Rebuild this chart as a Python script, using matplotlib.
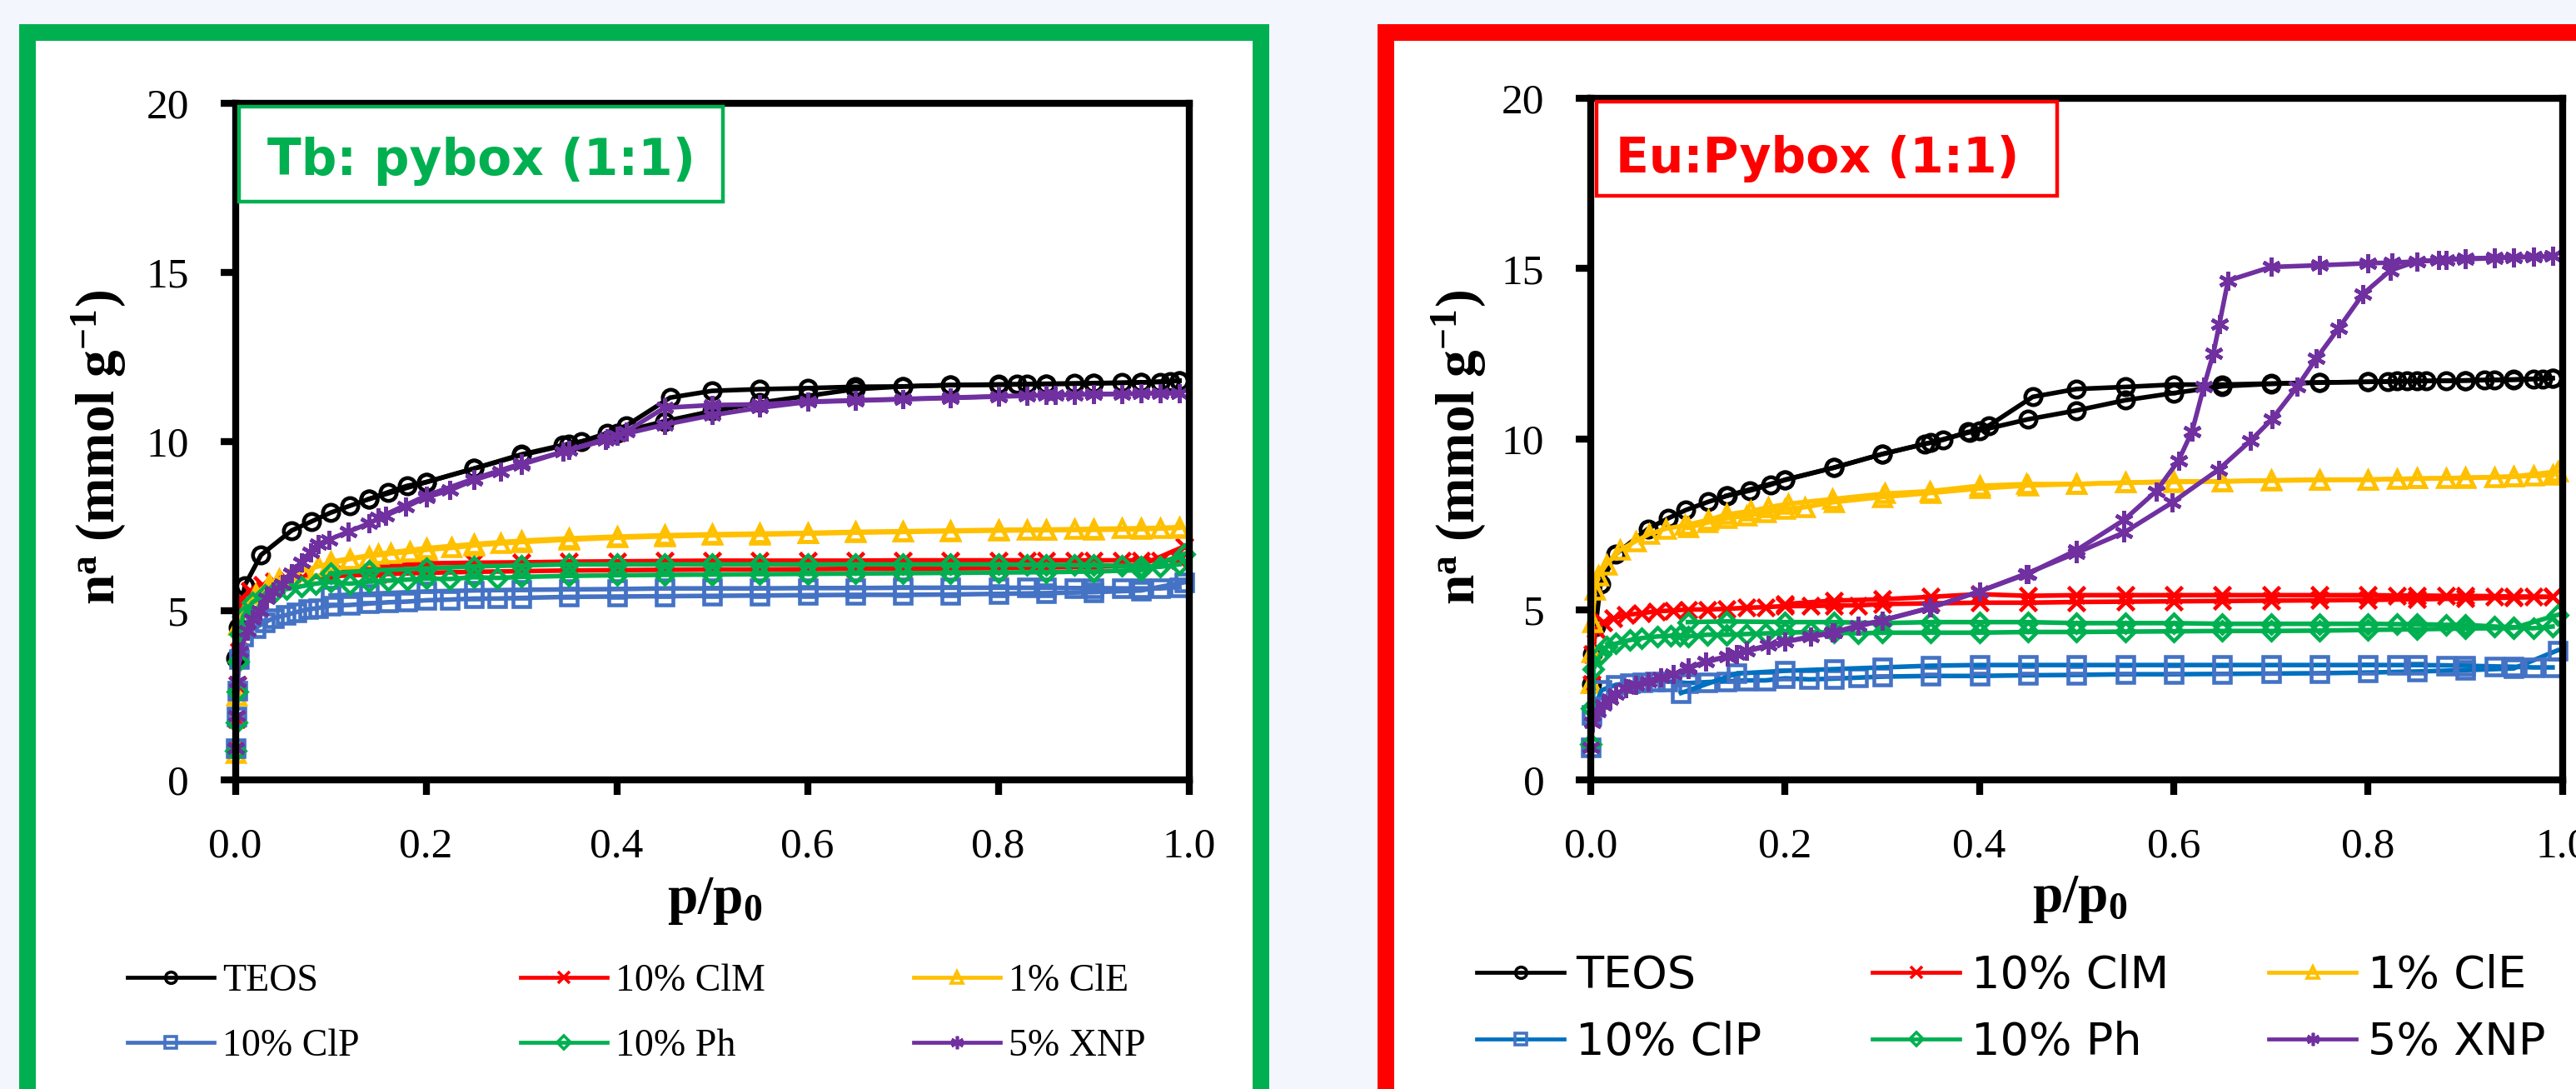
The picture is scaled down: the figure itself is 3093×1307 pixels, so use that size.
import numpy as np
import matplotlib.pyplot as plt
from matplotlib.patches import Rectangle
from matplotlib.lines import Line2D
from matplotlib.ticker import FormatStrFormatter

plt.rcParams['font.family'] = ['Liberation Serif', 'DejaVu Serif']
plt.rcParams['mathtext.fontset'] = 'custom'
plt.rcParams['mathtext.rm'] = 'Liberation Serif'
plt.rcParams['mathtext.it'] = 'Liberation Serif:italic'
plt.rcParams['mathtext.bf'] = 'Liberation Serif:bold'

# ---------------- Tb:pybox (left panel) ----------------
TB_TEOS_ADS_P = [0.0005, 0.003, 0.01, 0.027, 0.059, 0.08, 0.10, 0.12, 0.14, 0.16, 0.18, 0.20, 0.25, 0.30, 0.35, 0.40, 0.45, 0.50, 0.55, 0.60, 0.65, 0.70, 0.75, 0.80, 0.85, 0.90, 0.95, 0.99]
TB_TEOS_ADS_N = [3.6, 4.5, 5.75, 6.65, 7.37, 7.64, 7.90, 8.10, 8.30, 8.50, 8.69, 8.80, 9.20, 9.60, 9.92, 10.25, 10.60, 10.90, 11.15, 11.35, 11.55, 11.63, 11.67, 11.69, 11.70, 11.72, 11.75, 11.80]
TB_TEOS_DES_P = [0.99, 0.98, 0.97, 0.95, 0.93, 0.90, 0.88, 0.85, 0.83, 0.82, 0.80, 0.75, 0.70, 0.65, 0.60, 0.55, 0.50, 0.456, 0.41, 0.39, 0.363, 0.344, 0.30, 0.25, 0.20, 0.14]
TB_TEOS_DES_N = [11.80, 11.78, 11.76, 11.75, 11.74, 11.73, 11.72, 11.71, 11.70, 11.69, 11.68, 11.67, 11.63, 11.62, 11.58, 11.55, 11.50, 11.30, 10.47, 10.25, 10.00, 9.90, 9.62, 9.20, 8.80, 8.30]

TB_CLM_ADS_P = [0.0003, 0.001, 0.002, 0.004, 0.0066, 0.015, 0.028, 0.041, 0.054, 0.07, 0.10, 0.15, 0.20, 0.25, 0.30, 0.35, 0.40, 0.45, 0.50, 0.55, 0.60, 0.65, 0.70, 0.75, 0.80, 0.85, 0.90, 0.95, 0.995]
TB_CLM_ADS_N = [0.9, 1.8, 2.8, 3.8, 5.34, 5.59, 5.76, 5.85, 5.93, 5.98, 6.02, 6.08, 6.12, 6.15, 6.17, 6.19, 6.20, 6.21, 6.22, 6.22, 6.23, 6.24, 6.24, 6.25, 6.26, 6.28, 6.30, 6.35, 6.90]
TB_CLM_DES_P = [0.99, 0.97, 0.95, 0.93, 0.90, 0.88, 0.85, 0.83, 0.80, 0.75, 0.70, 0.65, 0.60, 0.55, 0.50, 0.45, 0.40, 0.35, 0.30, 0.25, 0.20, 0.15, 0.10]
TB_CLM_DES_N = [6.50, 6.49, 6.49, 6.49, 6.49, 6.49, 6.49, 6.49, 6.49, 6.49, 6.49, 6.48, 6.48, 6.48, 6.48, 6.47, 6.46, 6.45, 6.43, 6.42, 6.40, 6.30, 6.10]

TB_CLE_ADS_P = [0.0003, 0.001, 0.003, 0.0115, 0.021, 0.035, 0.046, 0.058, 0.071, 0.087, 0.10, 0.12, 0.14, 0.163, 0.183, 0.20, 0.227, 0.25, 0.278, 0.30, 0.35, 0.40, 0.45, 0.50, 0.55, 0.60, 0.65, 0.70, 0.75, 0.80, 0.85, 0.90, 0.95, 0.99]
TB_CLE_ADS_N = [0.8, 2.5, 4.58, 5.08, 5.50, 5.80, 5.93, 6.02, 6.19, 6.31, 6.40, 6.53, 6.61, 6.69, 6.74, 6.80, 6.86, 6.93, 6.99, 7.03, 7.10, 7.16, 7.20, 7.23, 7.25, 7.28, 7.31, 7.33, 7.35, 7.37, 7.38, 7.39, 7.41, 7.45]
TB_CLE_DES_P = [0.99, 0.97, 0.95, 0.93, 0.90, 0.88, 0.85, 0.83, 0.80, 0.75, 0.70, 0.65, 0.60, 0.55, 0.50, 0.45, 0.40, 0.35, 0.30, 0.25, 0.20, 0.15, 0.10]
TB_CLE_DES_N = [7.47, 7.45, 7.44, 7.43, 7.42, 7.41, 7.40, 7.40, 7.39, 7.37, 7.35, 7.33, 7.30, 7.28, 7.26, 7.23, 7.19, 7.14, 7.07, 6.97, 6.85, 6.68, 6.45]

TB_CLP_ADS_P = [0.0003, 0.001, 0.002, 0.004, 0.008, 0.021, 0.031, 0.041, 0.053, 0.064, 0.076, 0.087, 0.10, 0.12, 0.14, 0.16, 0.18, 0.20, 0.225, 0.25, 0.275, 0.30, 0.35, 0.40, 0.45, 0.50, 0.55, 0.60, 0.65, 0.70, 0.75, 0.80, 0.85, 0.90, 0.95, 0.995]
TB_CLP_ADS_N = [0.93, 1.86, 2.63, 3.56, 4.24, 4.49, 4.66, 4.79, 4.87, 4.96, 5.04, 5.08, 5.15, 5.17, 5.21, 5.25, 5.27, 5.31, 5.33, 5.36, 5.36, 5.38, 5.41, 5.42, 5.43, 5.44, 5.45, 5.46, 5.47, 5.47, 5.48, 5.50, 5.52, 5.55, 5.60, 5.84]
TB_CLP_DES_P = [0.99, 0.97, 0.95, 0.93, 0.90, 0.88, 0.85, 0.83, 0.80, 0.75, 0.70, 0.65, 0.60, 0.55, 0.50, 0.45, 0.40, 0.35, 0.30, 0.25, 0.20, 0.14, 0.10]
TB_CLP_DES_N = [5.70, 5.66, 5.66, 5.66, 5.67, 5.67, 5.68, 5.68, 5.68, 5.68, 5.68, 5.67, 5.67, 5.66, 5.66, 5.66, 5.64, 5.63, 5.62, 5.60, 5.57, 5.50, 5.45]

TB_PH_ADS_P = [0.0003, 0.001, 0.002, 0.003, 0.005, 0.008, 0.018, 0.031, 0.041, 0.054, 0.069, 0.084, 0.10, 0.12, 0.14, 0.16, 0.18, 0.20, 0.225, 0.25, 0.275, 0.30, 0.35, 0.40, 0.45, 0.50, 0.55, 0.60, 0.65, 0.70, 0.75, 0.80, 0.85, 0.90, 0.95, 0.995]
TB_PH_ADS_N = [0.85, 1.7, 2.6, 3.5, 4.3, 4.83, 5.25, 5.47, 5.55, 5.64, 5.72, 5.80, 5.85, 5.80, 5.86, 5.89, 5.92, 5.95, 5.94, 5.99, 5.97, 6.00, 6.03, 6.05, 6.06, 6.07, 6.08, 6.09, 6.10, 6.11, 6.12, 6.13, 6.14, 6.16, 6.20, 6.68]
TB_PH_DES_P = [0.99, 0.97, 0.95, 0.93, 0.90, 0.88, 0.85, 0.83, 0.80, 0.75, 0.70, 0.65, 0.60, 0.55, 0.50, 0.45, 0.40, 0.35, 0.30, 0.25, 0.20, 0.14, 0.10]
TB_PH_DES_N = [6.37, 6.30, 6.30, 6.33, 6.35, 6.35, 6.36, 6.36, 6.37, 6.37, 6.37, 6.37, 6.37, 6.37, 6.37, 6.37, 6.37, 6.37, 6.34, 6.31, 6.25, 6.19, 6.10]

TB_XNP_ADS_P = [0.0003, 0.001, 0.002, 0.005, 0.013, 0.018, 0.026, 0.033, 0.04, 0.049, 0.059, 0.069, 0.079, 0.087, 0.098, 0.118, 0.14, 0.158, 0.179, 0.20, 0.225, 0.25, 0.278, 0.30, 0.344, 0.388, 0.40, 0.45, 0.50, 0.55, 0.60, 0.65, 0.70, 0.75, 0.80, 0.85, 0.90, 0.95, 0.99]
TB_XNP_ADS_N = [0.93, 1.90, 2.90, 3.80, 4.42, 4.75, 5.00, 5.37, 5.57, 5.80, 6.10, 6.43, 6.72, 6.96, 7.10, 7.33, 7.58, 7.82, 8.07, 8.35, 8.56, 8.86, 9.11, 9.32, 9.70, 10.04, 10.17, 10.50, 10.78, 11.00, 11.17, 11.21, 11.25, 11.29, 11.33, 11.37, 11.40, 11.42, 11.43]
TB_XNP_DES_P = [0.99, 0.97, 0.95, 0.93, 0.90, 0.88, 0.86, 0.83, 0.80, 0.75, 0.70, 0.65, 0.60, 0.55, 0.50, 0.45, 0.41, 0.39, 0.35, 0.30, 0.25, 0.20, 0.15]
TB_XNP_DES_N = [11.43, 11.43, 11.42, 11.41, 11.40, 11.39, 11.38, 11.36, 11.34, 11.30, 11.26, 11.22, 11.18, 11.10, 11.08, 11.00, 10.30, 10.10, 9.75, 9.35, 8.90, 8.40, 7.75]

# ---------------- Eu:Pybox (right panel) ----------------
EU_TEOS_ADS_P = [0.0005, 0.002, 0.005, 0.01, 0.026, 0.059, 0.08, 0.098, 0.121, 0.141, 0.164, 0.185, 0.20, 0.25, 0.30, 0.344, 0.363, 0.388, 0.40, 0.45, 0.50, 0.55, 0.60, 0.65, 0.70, 0.75, 0.80, 0.85, 0.90, 0.95, 0.99]
EU_TEOS_ADS_N = [2.80, 3.70, 4.50, 5.74, 6.63, 7.37, 7.68, 7.92, 8.16, 8.34, 8.49, 8.66, 8.81, 9.16, 9.56, 9.86, 9.98, 10.21, 10.25, 10.58, 10.84, 11.14, 11.35, 11.55, 11.62, 11.66, 11.68, 11.70, 11.72, 11.75, 11.79]
EU_TEOS_DES_P = [0.99, 0.98, 0.97, 0.95, 0.93, 0.92, 0.90, 0.88, 0.86, 0.84, 0.83, 0.82, 0.80, 0.75, 0.70, 0.65, 0.60, 0.55, 0.50, 0.455, 0.41, 0.39, 0.35, 0.30, 0.25, 0.20, 0.14]
EU_TEOS_DES_N = [11.79, 11.77, 11.76, 11.74, 11.73, 11.73, 11.72, 11.71, 11.71, 11.70, 11.70, 11.69, 11.68, 11.66, 11.63, 11.60, 11.60, 11.53, 11.47, 11.24, 10.40, 10.20, 9.90, 9.56, 9.16, 8.80, 8.34]

EU_CLM_ADS_P = [0.001, 0.002, 0.005, 0.013, 0.023, 0.036, 0.052, 0.068, 0.085, 0.10, 0.12, 0.14, 0.16, 0.18, 0.20, 0.226, 0.25, 0.275, 0.30, 0.35, 0.40, 0.45, 0.50, 0.55, 0.60, 0.65, 0.70, 0.75, 0.80, 0.85, 0.90, 0.95, 0.99]
EU_CLM_ADS_N = [2.80, 3.68, 4.42, 4.63, 4.74, 4.84, 4.89, 4.95, 4.97, 5.00, 5.00, 5.02, 5.05, 5.07, 5.10, 5.10, 5.12, 5.12, 5.16, 5.18, 5.20, 5.20, 5.22, 5.23, 5.24, 5.25, 5.26, 5.27, 5.28, 5.30, 5.32, 5.35, 5.37]
EU_CLM_DES_P = [0.99, 0.97, 0.95, 0.93, 0.90, 0.88, 0.85, 0.83, 0.80, 0.75, 0.70, 0.65, 0.60, 0.55, 0.50, 0.45, 0.40, 0.35, 0.30, 0.25, 0.20]
EU_CLM_DES_N = [5.37, 5.38, 5.38, 5.39, 5.40, 5.40, 5.41, 5.41, 5.42, 5.42, 5.42, 5.42, 5.42, 5.42, 5.42, 5.40, 5.45, 5.37, 5.30, 5.26, 5.16]

EU_CLE_ADS_P = [0.0003, 0.001, 0.002, 0.004, 0.008, 0.016, 0.03, 0.046, 0.06, 0.077, 0.097, 0.121, 0.14, 0.165, 0.183, 0.203, 0.249, 0.303, 0.349, 0.40, 0.448, 0.50, 0.55, 0.60, 0.65, 0.70, 0.75, 0.80, 0.85, 0.90, 0.95, 0.995]
EU_CLE_ADS_N = [2.84, 3.74, 4.63, 5.58, 6.00, 6.32, 6.74, 7.00, 7.21, 7.37, 7.47, 7.63, 7.79, 7.89, 8.00, 8.10, 8.24, 8.40, 8.47, 8.63, 8.68, 8.68, 8.72, 8.76, 8.76, 8.79, 8.81, 8.81, 8.84, 8.86, 8.90, 9.05]
EU_CLE_DES_P = [0.99, 0.97, 0.95, 0.93, 0.90, 0.88, 0.85, 0.83, 0.80, 0.75, 0.70, 0.65, 0.60, 0.55, 0.50, 0.45, 0.40, 0.35, 0.30, 0.25, 0.22, 0.20, 0.18, 0.16, 0.14, 0.12, 0.10]
EU_CLE_DES_N = [8.95, 8.92, 8.90, 8.88, 8.87, 8.85, 8.84, 8.83, 8.81, 8.80, 8.78, 8.76, 8.74, 8.72, 8.68, 8.64, 8.55, 8.42, 8.30, 8.15, 8.00, 7.95, 7.85, 7.75, 7.68, 7.55, 7.40]

EU_CLP_ADS_P = [0.0003, 0.001, 0.011, 0.026, 0.04, 0.053, 0.066, 0.079, 0.10, 0.12, 0.14, 0.16, 0.18, 0.20, 0.225, 0.25, 0.275, 0.30, 0.35, 0.40, 0.45, 0.50, 0.55, 0.60, 0.65, 0.70, 0.75, 0.80, 0.85, 0.90, 0.95, 0.995]
EU_CLP_ADS_N = [0.95, 1.90, 2.63, 2.79, 2.84, 2.87, 2.89, 2.89, 2.84, 2.87, 2.89, 2.92, 2.92, 2.98, 2.95, 2.97, 3.00, 3.03, 3.05, 3.05, 3.07, 3.08, 3.10, 3.10, 3.11, 3.12, 3.13, 3.15, 3.18, 3.22, 3.27, 3.80]
EU_CLP_DES_P = [0.99, 0.97, 0.95, 0.93, 0.90, 0.88, 0.85, 0.83, 0.80, 0.75, 0.70, 0.65, 0.60, 0.55, 0.50, 0.45, 0.40, 0.35, 0.30, 0.25, 0.20, 0.15, 0.093]
EU_CLP_DES_N = [3.30, 3.30, 3.32, 3.33, 3.35, 3.36, 3.37, 3.37, 3.37, 3.37, 3.37, 3.37, 3.37, 3.37, 3.37, 3.37, 3.37, 3.35, 3.30, 3.25, 3.20, 3.12, 2.55]

EU_PH_ADS_P = [0.0003, 0.001, 0.003, 0.01, 0.016, 0.026, 0.04, 0.052, 0.069, 0.082, 0.092, 0.10, 0.12, 0.14, 0.16, 0.18, 0.20, 0.226, 0.25, 0.275, 0.30, 0.35, 0.40, 0.45, 0.50, 0.55, 0.60, 0.65, 0.70, 0.75, 0.80, 0.85, 0.90, 0.95, 0.995]
EU_PH_ADS_N = [1.05, 2.10, 3.26, 3.68, 3.90, 4.00, 4.10, 4.16, 4.21, 4.23, 4.23, 4.21, 4.26, 4.26, 4.28, 4.30, 4.32, 4.34, 4.32, 4.30, 4.32, 4.32, 4.32, 4.34, 4.34, 4.35, 4.36, 4.37, 4.37, 4.38, 4.40, 4.42, 4.44, 4.46, 4.84]
EU_PH_DES_P = [0.99, 0.97, 0.95, 0.93, 0.90, 0.88, 0.85, 0.83, 0.80, 0.75, 0.70, 0.65, 0.60, 0.55, 0.50, 0.45, 0.40, 0.35, 0.30, 0.25, 0.20, 0.14, 0.10]
EU_PH_DES_N = [4.50, 4.45, 4.48, 4.50, 4.55, 4.55, 4.57, 4.57, 4.58, 4.58, 4.58, 4.58, 4.60, 4.60, 4.60, 4.63, 4.63, 4.63, 4.60, 4.63, 4.63, 4.65, 4.63]

EU_XNP_ADS_P = [0.0003, 0.002, 0.007, 0.013, 0.02, 0.026, 0.036, 0.046, 0.059, 0.072, 0.085, 0.10, 0.118, 0.141, 0.16, 0.183, 0.20, 0.226, 0.249, 0.275, 0.30, 0.349, 0.40, 0.448, 0.50, 0.549, 0.598, 0.646, 0.679, 0.701, 0.727, 0.747, 0.77, 0.795, 0.823, 0.85, 0.873, 0.90, 0.93, 0.95, 0.97, 0.99]
EU_XNP_ADS_N = [0.95, 1.68, 2.00, 2.21, 2.37, 2.53, 2.68, 2.79, 2.89, 3.00, 3.10, 3.26, 3.47, 3.63, 3.79, 3.95, 4.05, 4.21, 4.32, 4.53, 4.68, 5.05, 5.53, 6.05, 6.66, 7.26, 8.13, 9.10, 9.95, 10.58, 11.53, 12.37, 13.26, 14.26, 14.95, 15.21, 15.26, 15.30, 15.32, 15.34, 15.35, 15.37]
EU_XNP_DES_P = [0.99, 0.97, 0.95, 0.93, 0.90, 0.88, 0.85, 0.825, 0.80, 0.75, 0.70, 0.656, 0.647, 0.641, 0.631, 0.619, 0.605, 0.582, 0.549, 0.50, 0.45, 0.40, 0.35, 0.30, 0.25, 0.20, 0.15, 0.10]
EU_XNP_DES_N = [15.37, 15.35, 15.33, 15.31, 15.28, 15.26, 15.21, 15.18, 15.16, 15.10, 15.05, 14.65, 13.37, 12.53, 11.53, 10.23, 9.37, 8.47, 7.63, 6.74, 6.05, 5.53, 5.05, 4.68, 4.32, 4.05, 3.70, 3.30]

LABELS = ['TEOS', '10% ClM', '1% ClE', '10% ClP', '10% Ph', '5% XNP']
COLORS = ['#000000', '#FF0000', '#FFC000', '#4472C4', '#00B050', '#7030A0']
MARKERS = ['o', 'x', '^', 's', 'D', (6, 2, 0)]
MSIZES = [14, 14, 15, 14, 11.5, 16]
GREEN = '#00B050'
RED = '#FF0000'

tb_series = [
    (TB_TEOS_ADS_P, TB_TEOS_ADS_N, TB_TEOS_DES_P, TB_TEOS_DES_N),
    (TB_CLM_ADS_P, TB_CLM_ADS_N, TB_CLM_DES_P, TB_CLM_DES_N),
    (TB_CLE_ADS_P, TB_CLE_ADS_N, TB_CLE_DES_P, TB_CLE_DES_N),
    (TB_CLP_ADS_P, TB_CLP_ADS_N, TB_CLP_DES_P, TB_CLP_DES_N),
    (TB_PH_ADS_P, TB_PH_ADS_N, TB_PH_DES_P, TB_PH_DES_N),
    (TB_XNP_ADS_P, TB_XNP_ADS_N, TB_XNP_DES_P, TB_XNP_DES_N),
]
eu_series = [
    (EU_TEOS_ADS_P, EU_TEOS_ADS_N, EU_TEOS_DES_P, EU_TEOS_DES_N),
    (EU_CLM_ADS_P, EU_CLM_ADS_N, EU_CLM_DES_P, EU_CLM_DES_N),
    (EU_CLE_ADS_P, EU_CLE_ADS_N, EU_CLE_DES_P, EU_CLE_DES_N),
    (EU_CLP_ADS_P, EU_CLP_ADS_N, EU_CLP_DES_P, EU_CLP_DES_N),
    (EU_PH_ADS_P, EU_PH_ADS_N, EU_PH_DES_P, EU_PH_DES_N),
    (EU_XNP_ADS_P, EU_XNP_ADS_N, EU_XNP_DES_P, EU_XNP_DES_N),
]
# right panel draws the ClP line in a darker blue than its markers
tb_lines = COLORS
eu_lines = ['#000000', '#FF0000', '#FFC000', '#0070C0', '#00B050', '#7030A0']

W, H = 3093, 1307
fig = plt.figure(figsize=(W / 100, H / 100), dpi=100, facecolor='#F3F7FD')


def fx(x):
    return x / W


def fy(y):
    return 1 - y / H


# framed panels
fig.add_artist(Rectangle((fx(32.5), fy(1500)), (1513.5 - 32.5) / W, (1500 - 38.5) / H,
                         transform=fig.transFigure, fc='white', ec=GREEN, lw=14.4, zorder=-1))
fig.add_artist(Rectangle((fx(1663.5), fy(1500)), (3300 - 1663.5) / W, (1500 - 38.5) / H,
                         transform=fig.transFigure, fc='white', ec=RED, lw=14.4, zorder=-1))

axL = fig.add_axes([fx(282.5), fy(936), (1427.5 - 282.5) / W, (936 - 124) / H])
axR = fig.add_axes([fx(1910), fy(936), (3076.5 - 1910) / W, (936 - 118) / H])


def draw(ax, series, line_colors):
    for i, (ap, an, dp, dn) in enumerate(series):
        for p, n in ((ap, an), (dp, dn)):
            ax.plot(p, n, color=line_colors[i], lw=4.0, marker=MARKERS[i], ms=MSIZES[i],
                    mec=COLORS[i], mfc='none', mew=3.3, clip_on=False)


def style(ax):
    ax.set_xlim(0, 1)
    ax.set_ylim(0, 20)
    ax.set_xticks(np.arange(0, 1.01, 0.2))
    ax.set_yticks(range(0, 21, 5))
    ax.xaxis.set_major_formatter(FormatStrFormatter('%.1f'))
    for s in ax.spines.values():
        s.set_linewidth(6)
    ax.tick_params(direction='out', length=13, width=6, labelsize=37)
    ax.tick_params(axis='x', pad=28)
    ax.tick_params(axis='y', pad=27)


draw(axL, tb_series, tb_lines)
draw(axR, eu_series, eu_lines)
style(axL)
style(axR)

# title boxes
axL.add_patch(Rectangle((0.004, 0.855), 0.507, 0.140, transform=axL.transAxes,
                        fc='white', ec=GREEN, lw=3.2, zorder=6))
axL.text(0.258, 0.894, 'Tb: pybox (1:1)', transform=axL.transAxes, ha='center', va='baseline',
         color=GREEN, fontsize=43, fontweight='bold', family='DejaVu Sans', zorder=7)
axR.add_patch(Rectangle((0.006, 0.857), 0.474, 0.138, transform=axR.transAxes,
                        fc='white', ec=RED, lw=3.2, zorder=6))
axR.text(0.233, 0.891, 'Eu:Pybox (1:1)', transform=axR.transAxes, ha='center', va='baseline',
         color=RED, fontsize=42, fontweight='bold', family='DejaVu Sans', zorder=7)

# axis labels
ylab = r'$\mathbf{n^{a}\ (mmol\ g^{-1})}$'
xlab = r'$\mathbf{p/p_0}$'
fig.text(fx(119), fy(537), ylab, rotation=90, ha='center', va='center', fontsize=47)
fig.text(fx(1752), fy(537), ylab, rotation=90, ha='center', va='center', fontsize=47)
fig.text(fx(858), fy(1081), xlab, ha='center', va='center', fontsize=47)
fig.text(fx(2497), fy(1079), xlab, ha='center', va='center', fontsize=47)


def handles(line_colors):
    return [Line2D([], [], color=line_colors[i], lw=3.4, marker=MARKERS[i], ms=MSIZES[i] * 0.7,
                   mec=COLORS[i], mfc='none', mew=2.6) for i in range(6)]


def legend(hs, xs, yc, prop, hlen, tpad, lsp):
    for c in range(3):
        fig.legend([hs[c], hs[c + 3]], [LABELS[c], LABELS[c + 3]], loc='center left',
                   bbox_to_anchor=(fx(xs[c]), fy(yc)), frameon=False, borderpad=0,
                   borderaxespad=0, handlelength=hlen, handletextpad=tpad,
                   labelspacing=lsp, prop=prop)


legend(handles(tb_lines), [153, 625, 1097], 1217,
       {'family': 'Liberation Serif', 'size': 33}, 2.27, 0.22, 0.77)
legend(handles(eu_lines), [1773, 2248, 2724], 1211,
       {'family': 'DejaVu Sans', 'size': 39}, 1.94, 0.25, 0.53)

fig.savefig('out.png', dpi=100, facecolor=fig.get_facecolor())
